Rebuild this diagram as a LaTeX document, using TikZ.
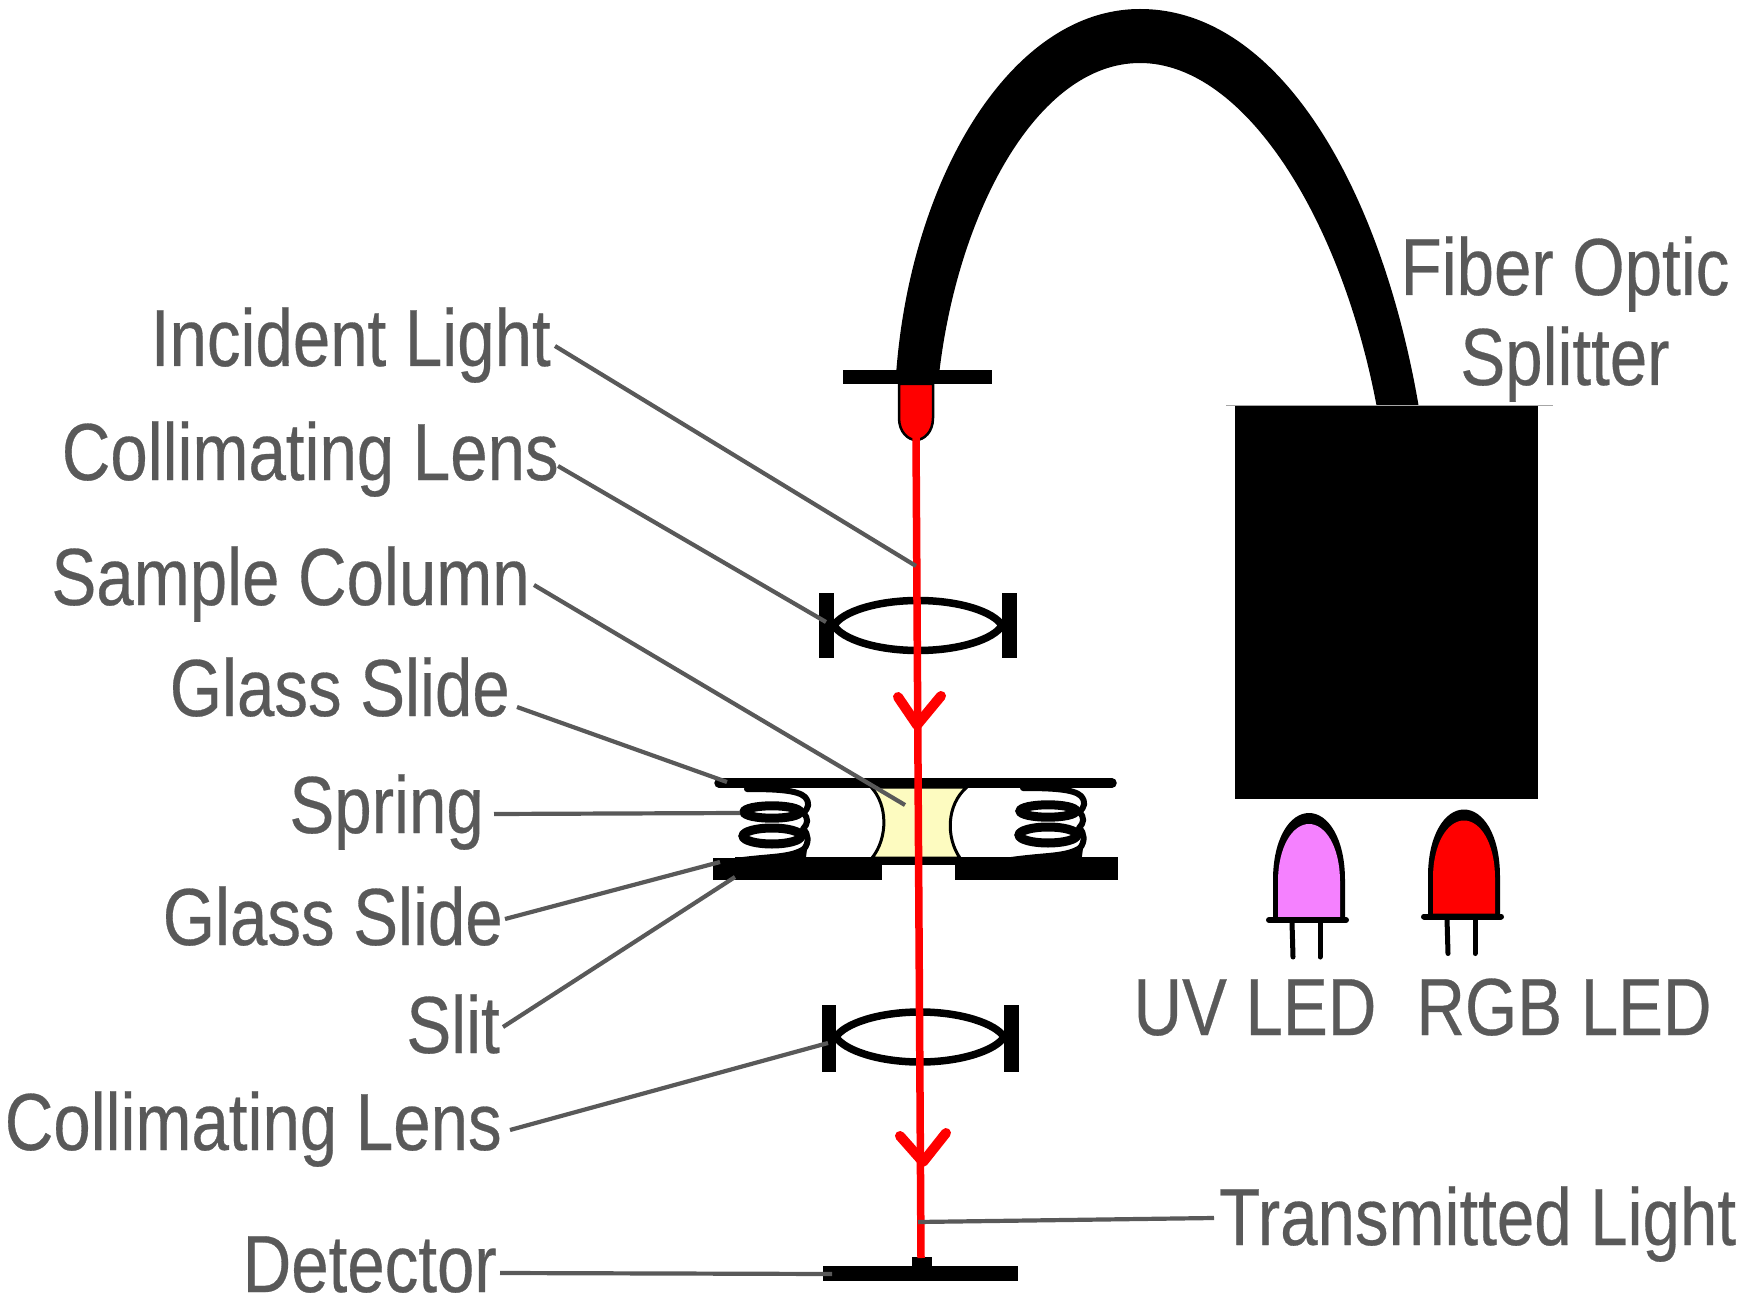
\documentclass[tikz,border=0pt]{standalone}
\usepackage{fontspec}
\setmainfont[FakeStretch=0.83,FakeBold=0.35]{Liberation Sans}
\definecolor{labelgrey}{HTML}{595959}
\definecolor{samplefill}{HTML}{FDFBC0}
\definecolor{uvfill}{HTML}{F581FF}
\tikzset{
  lbl/.style={inner sep=0pt,text=labelgrey,font=\fontsize{81}{81}\selectfont},
  leader/.style={draw=labelgrey,line width=4.2pt},
  beam/.style={draw=red,line width=7.5pt},
  vee/.style={draw=red,line width=10pt,line cap=round,line join=round},
  solid black/.style={fill=black,draw=none},
  lensline/.style={draw=black,line width=7.5pt},
  coilline/.style={draw=black,line width=9pt,line cap=round},
  wireline/.style={draw=black,line width=6pt,line cap=round,line join=round},
  ledpin/.style={draw=black,line width=5pt,line cap=round},
}
\begin{document}
\begin{tikzpicture}[x=1pt,y=-1pt]
\useasboundingbox (0,0) rectangle (1741,1305);
% fibre
\fill[black] (896,375) .. controls (910,180) and (1010,9) .. (1140,9)
  .. controls (1280,9) and (1382,190) .. (1419,408)
  -- (1377,408) .. controls (1342,220) and (1245,63) .. (1140,63)
  .. controls (1036,63) and (957,215) .. (939,375) -- cycle;
% source box
\draw[draw=black!35,line width=1pt] (1226,405.5) -- (1553,405.5);
\path[solid black] (1235,406) rectangle (1538,799);
% fibre end
\path[solid black] (843,370) rectangle (992,384);
\draw[fill=red,draw=black,line width=2.5pt] (899,384) -- (899,418) .. controls (899,432) and (908,440) .. (916,440)
  .. controls (924,440) and (933,432) .. (933,418) -- (933,384) -- cycle;
% lenses
\path[solid black] (819,593) rectangle (834,658);
\path[solid black] (1002,593) rectangle (1017,658);
\draw[lensline] (834,625.5) .. controls (842,612) and (876,600.5) .. (918,600.5) .. controls (960,600.5) and (994,612) .. (1002,625.5)
  .. controls (994,639) and (960,650.5) .. (918,650.5) .. controls (876,650.5) and (842,639) .. (834,625.5) -- cycle;
\path[solid black] (822,1005) rectangle (836,1072);
\path[solid black] (1004,1005) rectangle (1019,1072);
\draw[lensline] (836,1037) .. controls (844,1024) and (878,1012) .. (920,1012) .. controls (962,1012) and (996,1024) .. (1004,1037)
  .. controls (996,1050) and (962,1062) .. (920,1062) .. controls (878,1062) and (844,1050) .. (836,1037) -- cycle;
% sample
\draw[fill=samplefill,draw=black,line width=3pt] (871,787) .. controls (888,805) and (888,838) .. (872,858)
  -- (960,858) .. controls (946,838) and (946,805) .. (967,787) -- cycle;
% springs
\foreach \dx/\dy in {0/0,276/-1}{
  \begin{scope}[shift={(\dx,\dy)}]
    \draw[coilline] (772,812) ellipse [x radius=28,y radius=6.2];
    \draw[coilline] (772,836) ellipse [x radius=29,y radius=8];
    \draw[wireline] (747,789) .. controls (775,789) and (798,790) .. (805,797)
       .. controls (810,803) and (809,808) .. (803,813)
       .. controls (809,818) and (808,824) .. (803,829)
       .. controls (809,834) and (809,843) .. (804,849) -- (803,857);
    \fill[black] (735,858) .. controls (770,853) and (790,855) .. (803,846) -- (803,858) -- cycle;
  \end{scope}
}
% slides
\draw[draw=black,line width=9.5pt,line cap=round] (719,783) -- (1112,783);
\path[solid black] (735,857) rectangle (1118,865);
\path[solid black] (713,858) rectangle (882,880);
\path[solid black] (955,857) rectangle (1118,880);
% detector
\path[solid black] (823,1266) rectangle (1018,1281);
\path[solid black] (912,1257) rectangle (932,1266);
% beam
\draw[beam] (916,437) -- (921,1258);
\draw[vee] (898,697) -- (917,725) -- (941,696);
\draw[vee] (900,1136) -- (923,1162) -- (946,1133);
% LEDs
\foreach \dx/\dy/\col in {0/0/uvfill,155/-3.5/red}{
  \begin{scope}[shift={(\dx,\dy)}]
    \fill[black] (1273,920) -- (1273,880) .. controls (1273,838) and (1290,813) .. (1309,813)
      .. controls (1328,813) and (1345,838) .. (1345,880) -- (1345,920) -- cycle;
    \fill[\col] (1278,917) -- (1278,882) .. controls (1278,846) and (1293,824) .. (1309,824)
      .. controls (1325,824) and (1340,846) .. (1340,882) -- (1340,917) -- cycle;
    \draw[draw=black,line width=6pt,line cap=round] (1269,920) -- (1346,920);
    \draw[ledpin] (1292,922) -- (1293,957);
    \draw[ledpin] (1320,922) -- (1320,957);
  \end{scope}
}
% labels
\node[lbl,anchor=base east] (lInc) at (551,366) {Incident Light};
\node[lbl,anchor=base east] (lCollA) at (559,480) {Collimating Lens};
\node[lbl,anchor=base east] (lSample) at (530,605) {Sample Column};
\node[lbl,anchor=base east] (lGlassA) at (510,716) {Glass Slide};
\node[lbl,anchor=base east] (lSpring) at (484,833) {Spring};
\node[lbl,anchor=base east] (lGlassB) at (503,945) {Glass Slide};
\node[lbl,anchor=base east] (lSlit) at (500,1053) {Slit};
\node[lbl,anchor=base east] (lCollB) at (502,1150) {Collimating Lens};
\node[lbl,anchor=base east] (lDet) at (497,1292) {Detector};
\node[lbl,anchor=base west] (lTrans) at (1219,1245) {Transmitted Light};
\node[lbl,anchor=base] (lFiberA) at (1565,295) {Fiber Optic};
\node[lbl,anchor=base] (lFiberB) at (1565,385) {Splitter};
\node[lbl,anchor=base] (lUV) at (1255,1035) {UV LED};
\node[lbl,anchor=base] (lRGB) at (1564,1035) {RGB LED};
% leader targets
\coordinate (tInc) at (916,566);
\coordinate (tCollA) at (826,622);
\coordinate (tSample) at (905,805);
\coordinate (tGlassA) at (727,782);
\coordinate (tSpring) at (740,813);
\coordinate (tGlassB) at (720,862);
\coordinate (tSlit) at (735,877);
\coordinate (tCollB) at (828,1043);
\coordinate (tDet) at (832,1274);
\coordinate (tTrans) at (918,1222);
\draw[leader] ([shift={(4,-20)}]lInc.base east) -- (tInc);
\draw[leader] ([shift={(-1,-14)}]lCollA.base east) -- (tCollA);
\draw[leader] ([shift={(4,-20)}]lSample.base east) -- (tSample);
\draw[leader] ([shift={(7,-9)}]lGlassA.base east) -- (tGlassA);
\draw[leader] ([shift={(10,-19)}]lSpring.base east) -- (tSpring);
\draw[leader] ([shift={(2,-26)}]lGlassB.base east) -- (tGlassB);
\draw[leader] ([shift={(3,-26)}]lSlit.base east) -- (tSlit);
\draw[leader] ([shift={(8,-20)}]lCollB.base east) -- (tCollB);
\draw[leader] ([shift={(3,-19)}]lDet.base east) -- (tDet);
\draw[leader] ([shift={(-5,-27)}]lTrans.base west) -- (tTrans);
\end{tikzpicture}
\end{document}
